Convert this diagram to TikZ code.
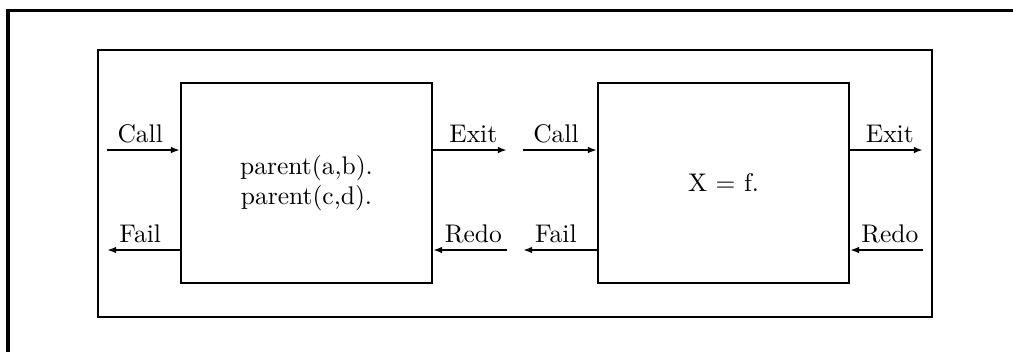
\documentclass[tikz,border=0pt]{standalone}
\usetikzlibrary{arrows.meta}
\begin{document}
\begin{tikzpicture}[x=0.3922pt,y=-0.3922pt,
  frameline/.style={draw=black,line width=1.18pt},
  innerline/.style={draw=black,line width=0.8pt},
  portbox/.style={draw=black,line width=0.8pt,minimum width=98.4pt,minimum height=78.4pt,inner sep=0pt},
  arr/.style={line width=0.8pt,-{Latex[length=3.6pt,width=2.6pt]}},
  lbl/.style={anchor=base,inner sep=0pt,yshift=2.9pt},
  boxtext/.style={align=center,inner sep=0pt}]
\fill[white] (0,0) rectangle (1013,352);
\useasboundingbox (0,0) rectangle (1013,352);
% outer frame (continues beyond the page on the right and bottom)
\draw[frameline] (1013,10) -- (8,10) -- (8,352);
% inner frame
\draw[innerline] (98,50) rectangle (932,317);
% boxes
\node[portbox] (b1) at (306.5,183) {};
\node[portbox] (b2) at (723.5,183) {};
\node[boxtext] (t1) at (b1.center) {parent(a,b).\\parent(c,d).};
\node[boxtext] (t2) at (b2.center) {X = f.};
% free ends
\coordinate (c1) at (107,150);
\coordinate (f1) at (107,250);
\coordinate (e1) at (507,150);
\coordinate (r1) at (507,250);
\coordinate (c2) at (523,150);
\coordinate (f2) at (523,250);
\coordinate (e2) at (923,150);
\coordinate (r2) at (923,250);
% arrows
\draw[arr] (c1) -- (c1 -| b1.west) node[lbl,midway,xshift=-1.3pt] {Call};
\draw[arr] (f1 -| b1.west) -- (f1) node[lbl,midway,xshift=-1.3pt] {Fail};
\draw[arr] (e1 -| b1.east) -- (e1) node[lbl,midway,xshift=1.3pt] {Exit};
\draw[arr] (r1) -- (r1 -| b1.east) node[lbl,midway,xshift=1.3pt] {Redo};
\draw[arr] (c2) -- (c2 -| b2.west) node[lbl,midway,xshift=-1.6pt] {Call};
\draw[arr] (f2 -| b2.west) -- (f2) node[lbl,midway,xshift=-1.6pt] {Fail};
\draw[arr] (e2 -| b2.east) -- (e2) node[lbl,midway,xshift=1.3pt] {Exit};
\draw[arr] (r2) -- (r2 -| b2.east) node[lbl,midway,xshift=1.3pt] {Redo};
\end{tikzpicture}
\end{document}
